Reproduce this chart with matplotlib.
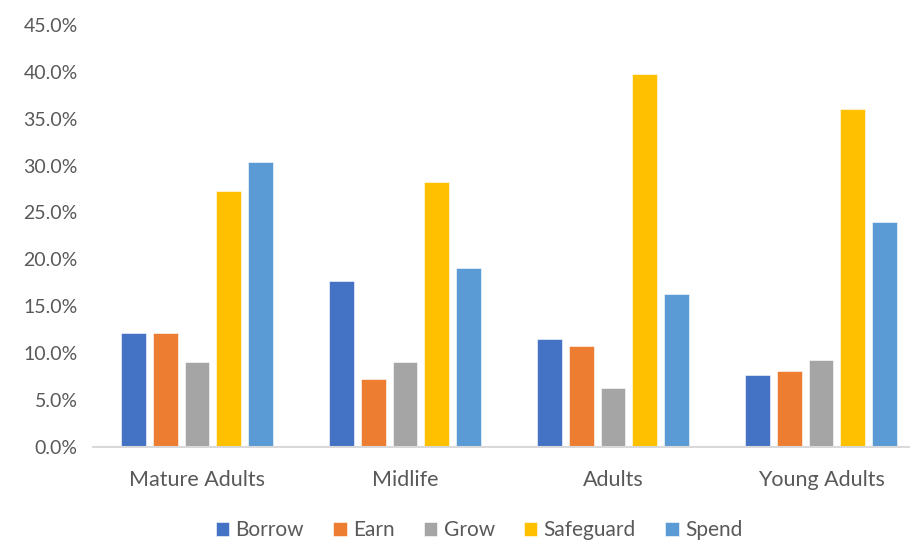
import numpy as np
import matplotlib
matplotlib.use("Agg")
from matplotlib import pyplot as plt
from matplotlib.ticker import PercentFormatter

plt.rcParams['font.family'] = ['Lato', 'DejaVu Sans']

segments = ["Mature Adults", "Midlife", "Adults", "Young Adults"]
series = ["Borrow", "Earn", "Grow", "Safeguard", "Spend"]
colors = ["#4472C4", "#ED7D31", "#A5A5A5", "#FFC000", "#5B9BD5"]

borrow = [12.1, 17.7, 11.5, 7.7]
earn = [12.1, 7.2, 10.7, 8.05]
grow = [9.05, 9.05, 6.3, 9.2]
safeguard = [27.3, 28.2, 39.8, 36.0]
spend = [30.4, 19.1, 16.3, 23.95]
values = [borrow, earn, grow, safeguard, spend]

fig = plt.figure(figsize=(9.1, 5.42), dpi=100)
# plot area runs past the right edge of the canvas
ax = fig.add_axes([93 / 910, 1 - 446.7 / 542, 832 / 910, 421.7 / 542])

x = np.arange(len(segments))
pitch = 0.1524
width = 0.12
for i, (name, vals, c) in enumerate(zip(series, values, colors)):
    ax.bar(x + (i - 2) * pitch, vals, width, color=c, label=name,
           edgecolor="white", linewidth=0.4)

ax.set_xlim(-0.5, 3.5)
ax.set_ylim(0, 45)
ax.set_yticks(np.arange(0, 46, 5))
ax.yaxis.set_major_formatter(PercentFormatter(decimals=1))
ax.set_xticks(x)
ax.set_xticklabels(segments)

for s in ["top", "right", "left"]:
    ax.spines[s].set_visible(False)
ax.spines["bottom"].set_color("#D9D9D9")
ax.spines["bottom"].set_linewidth(1.5)
ax.tick_params(axis="both", length=0, labelcolor="#595959")
ax.tick_params(axis="x", pad=17, labelsize=15.5)
ax.tick_params(axis="y", pad=11, labelsize=14)

fig.legend(loc="center", bbox_to_anchor=(479 / 910, 1 - 530 / 542), ncol=5,
           frameon=False, fontsize=15, labelcolor="#595959",
           handlelength=0.65, handleheight=0.65, handletextpad=0.3,
           columnspacing=1.4)

fig.savefig("out.png", dpi=100)
